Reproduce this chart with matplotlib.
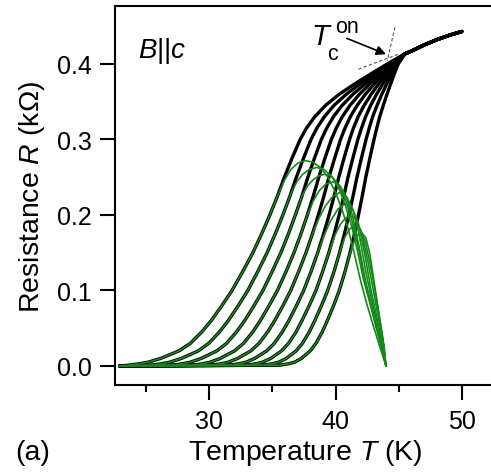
import matplotlib
matplotlib.use("Agg")
import matplotlib.pyplot as plt

plt.rcParams["font.family"] = ["Liberation Sans", "DejaVu Sans"]
plt.rcParams["mathtext.fontset"] = "custom"
plt.rcParams["mathtext.rm"] = "Liberation Sans"
plt.rcParams["mathtext.it"] = "Liberation Sans:italic"
plt.rcParams["mathtext.bf"] = "Liberation Sans:bold"

# resistance levels (kOhm); each row: temperature (K) where the 9 curves cross that level
r_levels = [0.001, 0.003, 0.005, 0.01, 0.02, 0.03, 0.045, 0.06, 0.08, 0.10, 0.125,
            0.15, 0.175, 0.20, 0.225, 0.25, 0.275, 0.30, 0.315, 0.33, 0.345, 0.36,
            0.375, 0.39, 0.40]
t_levels = [
    [23.6, 25.36, 27.06, 28.68, 30.16, 31.62, 32.98, 34.3, 35.6],
    [24.5, 26.23, 27.9, 29.49, 30.95, 32.38, 33.73, 35.03, 36.3],
    [25.15, 26.86, 28.49, 30.06, 31.5, 32.9, 34.22, 35.5, 36.75],
    [26.15, 27.79, 29.36, 30.87, 32.25, 33.6, 34.87, 36.1, 37.3],
    [27.6, 29.13, 30.6, 32.0, 33.29, 34.55, 35.73, 36.88, 38.0],
    [28.5, 29.96, 31.37, 32.71, 33.94, 35.15, 36.28, 37.38, 38.45],
    [29.4, 30.8, 32.15, 33.44, 34.62, 35.78, 36.87, 37.92, 38.95],
    [30.15, 31.5, 32.8, 34.04, 35.18, 36.3, 37.34, 38.36, 39.35],
    [31.0, 32.3, 33.55, 34.74, 35.84, 36.91, 37.92, 38.89, 39.85],
    [31.8, 33.05, 34.25, 35.4, 36.45, 37.48, 38.45, 39.38, 40.3],
    [32.65, 33.84, 34.98, 36.08, 37.08, 38.06, 38.98, 39.88, 40.75],
    [33.45, 34.58, 35.67, 36.71, 37.66, 38.59, 39.47, 40.32, 41.15],
    [34.15, 35.23, 36.27, 37.26, 38.17, 39.06, 39.9, 40.71, 41.5],
    [34.8, 35.83, 36.82, 37.77, 38.64, 39.49, 40.29, 41.06, 41.82],
    [35.4, 36.39, 37.34, 38.24, 39.08, 39.89, 40.66, 41.39, 42.12],
    [35.95, 36.9, 37.81, 38.68, 39.48, 40.26, 40.99, 41.7, 42.4],
    [36.55, 37.46, 38.33, 39.16, 39.93, 40.67, 41.37, 42.05, 42.72],
    [37.2, 38.06, 38.88, 39.67, 40.4, 41.11, 41.77, 42.42, 43.05],
    [37.7, 38.52, 39.3, 40.06, 40.75, 41.42, 42.06, 42.67, 43.27],
    [38.35, 39.11, 39.83, 40.53, 41.17, 41.79, 42.38, 42.94, 43.5],
    [39.2, 39.87, 40.52, 41.14, 41.71, 42.26, 42.78, 43.29, 43.78],
    [40.3, 40.86, 41.39, 41.9, 42.37, 42.83, 43.26, 43.67, 44.08],
    [41.65, 42.05, 42.44, 42.81, 43.15, 43.49, 43.8, 44.1, 44.4],
    [43.1, 43.34, 43.57, 43.79, 43.99, 44.19, 44.37, 44.55, 44.73],
    [44.1, 44.23, 44.35, 44.47, 44.58, 44.68, 44.78, 44.88, 44.97],
]
t_start = 22.9

# common normal-state part above the transition
t_normal = [45.5, 46.0, 47.0, 48.0, 49.0, 50.0]
r_normal = [0.4134, 0.417, 0.425, 0.432, 0.438, 0.443]

# green fits: number of black points they share, then their own arc down to 44 K
green_keep = [15, 15, 15, 14, 13, 12, 12, 12, 11]
green_t = [
    [35.95, 36.5, 37.05, 37.6, 38.2, 38.8, 39.4, 40.0, 40.5, 41.0, 41.5, 42.0, 42.5, 43.0, 43.5, 44.0],
    [36.9, 37.4, 37.9, 38.5, 39.1, 39.7, 40.3, 40.8, 41.3, 41.75, 42.2, 42.7, 43.2, 43.6, 44.0],
    [37.8, 38.25, 38.7, 39.2, 39.7, 40.25, 40.8, 41.3, 41.8, 42.3, 42.8, 43.3, 43.7, 44.0],
    [38.25, 38.75, 39.25, 39.8, 40.35, 40.85, 41.35, 41.85, 42.35, 42.85, 43.3, 43.7, 44.0],
    [38.7, 39.2, 39.8, 40.36, 40.9, 41.4, 41.9, 42.4, 42.9, 43.35, 43.7, 44.0],
    [39.1, 39.6, 40.2, 40.76, 41.3, 41.8, 42.3, 42.8, 43.25, 43.65, 44.0],
    [39.95, 40.4, 40.8, 41.2, 41.65, 42.1, 42.55, 43.0, 43.4, 43.75, 44.0],
    [40.75, 41.15, 41.55, 41.95, 42.35, 42.75, 43.1, 43.45, 43.75, 44.0],
    [41.15, 41.5, 41.8, 42.1, 42.4, 42.7, 43.0, 43.3, 43.6, 43.85, 44.0],
]
green_r = [
    [0.246, 0.261, 0.269, 0.272, 0.270, 0.263, 0.250, 0.230, 0.208, 0.182, 0.148, 0.112, 0.081, 0.053, 0.026, 0.0],
    [0.243, 0.254, 0.260, 0.263, 0.260, 0.251, 0.234, 0.212, 0.184, 0.152, 0.116, 0.085, 0.052, 0.027, 0.0],
    [0.239, 0.247, 0.252, 0.254, 0.251, 0.240, 0.220, 0.193, 0.158, 0.116, 0.080, 0.048, 0.024, 0.0],
    [0.219, 0.233, 0.241, 0.244, 0.239, 0.224, 0.199, 0.160, 0.115, 0.080, 0.050, 0.025, 0.0],
    [0.196, 0.212, 0.225, 0.230, 0.224, 0.206, 0.172, 0.125, 0.085, 0.054, 0.028, 0.0],
    [0.173, 0.192, 0.208, 0.215, 0.210, 0.190, 0.150, 0.102, 0.066, 0.034, 0.0],
    [0.173, 0.188, 0.196, 0.199, 0.194, 0.174, 0.140, 0.100, 0.064, 0.034, 0.0],
    [0.171, 0.182, 0.186, 0.182, 0.165, 0.135, 0.102, 0.068, 0.036, 0.0],
    [0.149, 0.166, 0.174, 0.176, 0.170, 0.150, 0.118, 0.085, 0.052, 0.026, 0.0],
]

# tangent construction for T_c^on
tan_steep_t = [44.71, 44.10]
tan_steep_r = [0.4486, 0.4043]
tan_flat_t = [41.81, 44.98]
tan_flat_r = [0.393, 0.413]

fig = plt.figure(figsize=(4.91, 4.77), dpi=100)
ax = fig.add_axes([115 / 491, 1 - 386 / 477, 1 - 115 / 491, 379 / 477])

n_curves = len(t_levels[0])
curves_t = [[row[i] for row in t_levels] for i in range(n_curves)]

for tl in curves_t:
    tt = [t_start] + tl + [t for t in t_normal if t > tl[-1]]
    rr = [0.0] + r_levels + [r for t, r in zip(t_normal, r_normal) if t > tl[-1]]
    ax.plot(tt, rr, color="black", lw=2.4, solid_capstyle="round")

for tl, k, gt, gr in zip(curves_t, green_keep, green_t, green_r):
    tt = [t_start] + tl[:k] + gt
    rr = [0.0] + r_levels[:k] + gr
    ax.plot(tt, rr, color="#14891a", lw=1.2)

ax.plot(tan_steep_t, tan_steep_r, color="#555555", lw=0.8, dashes=(3, 2))
ax.plot(tan_flat_t, tan_flat_r, color="#555555", lw=0.8, dashes=(3, 2))

ax.annotate("", xy=(44.0, 0.413), xytext=(40.89, 0.434),
            arrowprops=dict(arrowstyle="-|>", color="black", lw=1.2,
                            mutation_scale=14, shrinkA=0, shrinkB=0))
ax.text(38.11, 0.4265, "T", fontsize=21, style="italic", va="baseline")
ax.text(39.96, 0.4424, "on", fontsize=15.5, va="baseline")
ax.text(39.33, 0.4066, "c", fontsize=15.5, va="baseline")
ax.text(0.061, 0.865, r"$B$||$c$", transform=ax.transAxes, fontsize=20,
        va="baseline", ha="left")

ax.set_xlim(22.53, 52.32)
ax.set_ylim(-0.0252, 0.4768)
ax.set_xticks([30, 40, 50])
ax.set_xticks([25, 35, 45], minor=True)
ax.set_yticks([0.0, 0.1, 0.2, 0.3, 0.4])
ax.set_yticklabels(["0.0", "0.1", "0.2", "0.3", "0.4"])

ax.spines["right"].set_visible(False)
for s in ["left", "top", "bottom"]:
    ax.spines[s].set_linewidth(1.5)
ax.tick_params(axis="both", which="major", direction="out", length=10.5,
               width=1.5, labelsize=18, pad=6)
ax.tick_params(axis="x", which="major", pad=7)
ax.tick_params(axis="x", which="minor", direction="out", length=5, width=1.5)
ax.tick_params(axis="y", which="minor", left=False)

ax.set_xlabel(r"Temperature $T$ (K)", fontsize=20.5, va="baseline")
ax.xaxis.set_label_coords(0.505, -0.195)
ax.set_ylabel(r"Resistance $R$ (k$\Omega$)", fontsize=20.5, va="baseline")
ax.yaxis.set_label_coords(-0.203, 0.5)

fig.text(15 / 491, 1 - 460 / 477, "(a)", fontsize=20.5, va="baseline")

fig.savefig("out.png", dpi=100)
